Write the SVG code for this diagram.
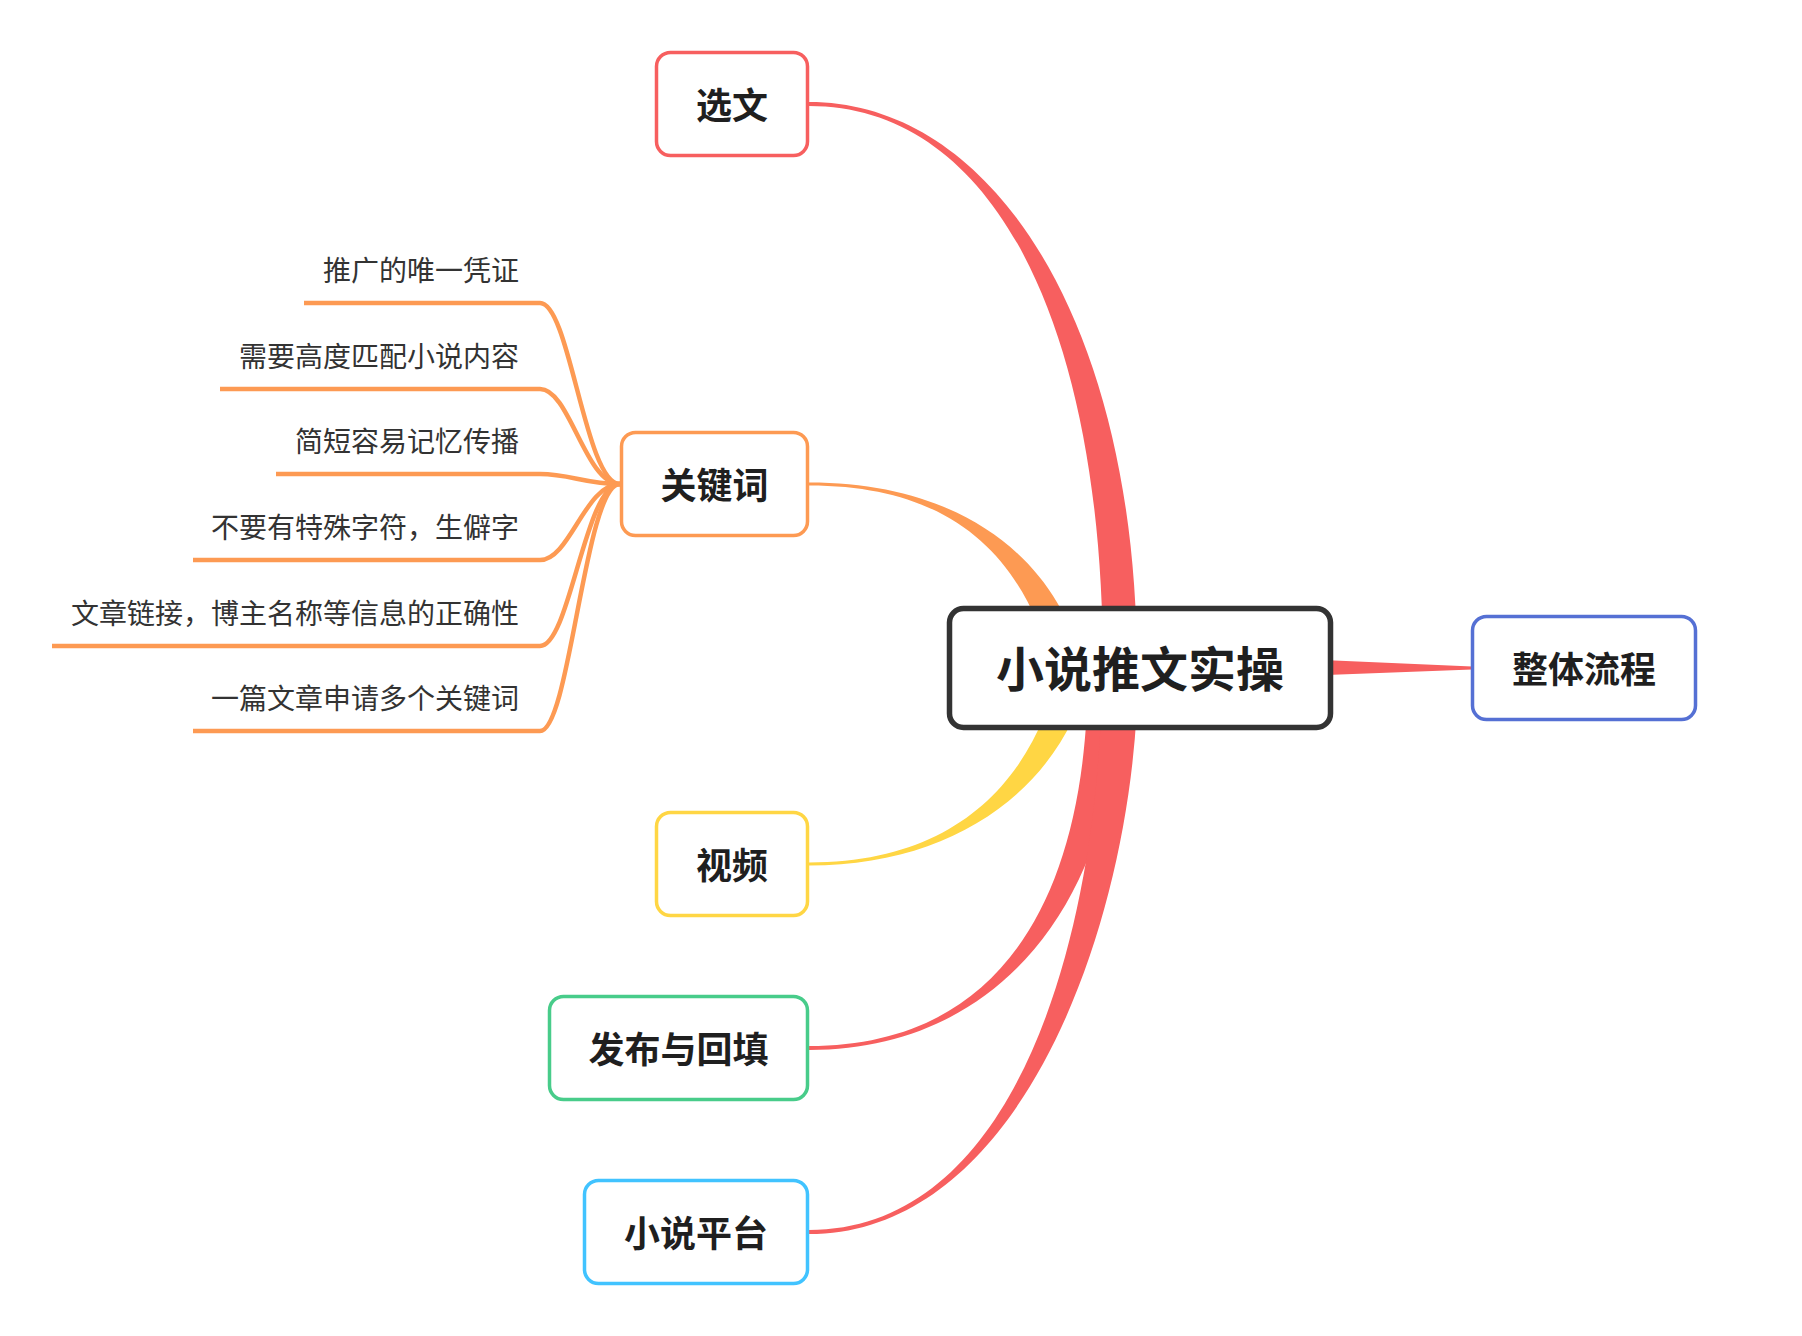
<svg xmlns="http://www.w3.org/2000/svg" width="1802" height="1336" viewBox="0 0 1802 1336">
<style>
.bg{fill:#ffffff}
.box{fill:#ffffff;stroke-width:3.5}
.main{font-family:"Noto Sans CJK SC","Noto Sans",sans-serif;font-weight:700;font-size:36px;fill:#1f1f1f;text-anchor:middle}
.root{font-family:"Noto Sans CJK SC","Noto Sans",sans-serif;font-weight:700;font-size:48px;fill:#1f1f1f;text-anchor:middle}
.sub{font-family:"Noto Sans CJK SC","Noto Sans",sans-serif;font-size:28px;fill:#333333;text-anchor:end}
.subline{fill:none;stroke:#FD9A53;stroke-width:4.5}
.red{fill:#F75F5F}
.orange{fill:#FD9A53}
.yellow{fill:#FFD644}
</style>
<rect class="bg" x="0" y="0" width="1802" height="1336"/>
<g id="connectors">
  <path class="red" d="M809,102 C996,102 1137,329 1137,667 L1103,667 C1103,329 996,106 809,106 Z"/>
  <path class="orange" d="M809,482.5 C960,482.5 1054.6,556.6 1082.6,663.6 L1053.4,670.4 C1025.4,563.4 960,485.5 809,485.5 Z"/>
  <path class="yellow" d="M809,865.5 C960,865.5 1064.6,783.2 1089.6,670.2 L1060.4,663.8 C1035.4,776.8 960,862.5 809,862.5 Z"/>
  <path class="red" d="M809,1050 C1000,1050 1122,900 1122,667 L1088,667 C1088,900 1000,1046 809,1046 Z"/>
  <path class="red" d="M809,1234 C1030,1234 1138,900 1138,667 L1102,667 C1102,900 1030,1230 809,1230 Z"/>
  <path class="red" d="M1300,659 L1472,666.5 L1472,669.5 L1300,676 Z"/>
  <path class="subline" d="M304,303 L540,303 C570,303 585,484 620,484"/>
  <path class="subline" d="M220,389 L540,389 C570,389 585,484 620,484"/>
  <path class="subline" d="M276,474 L540,474 C570,474 585,484 620,484"/>
  <path class="subline" d="M193,560 L540,560 C570,560 585,484 620,484"/>
  <path class="subline" d="M52,646 L540,646 C570,646 585,484 620,484"/>
  <path class="subline" d="M193,731 L540,731 C570,731 585,484 620,484"/>
</g>
<g id="root">
  <rect x="949.5" y="608.5" width="381" height="119" rx="14" fill="#ffffff" stroke="#333333" stroke-width="5.5"/>
  <text class="root" x="1140" y="687">小说推文实操</text>
</g>
<g id="node-xuanwen">
  <rect class="box" x="656.5" y="52.5" width="151" height="103" rx="14" stroke="#F75F5F"/>
  <text class="main" x="732" y="118.5">选文</text>
</g>
<g id="node-guanjianci">
  <rect class="box" x="621.5" y="432.5" width="186" height="103" rx="14" stroke="#FD9A53"/>
  <text class="main" x="714.5" y="498.5">关键词</text>
</g>
<g id="sub-1"><text class="sub" x="519" y="280.5">推广的唯一凭证</text></g>
<g id="sub-2"><text class="sub" x="519" y="366.5">需要高度匹配小说内容</text></g>
<g id="sub-3"><text class="sub" x="519" y="451.5">简短容易记忆传播</text></g>
<g id="sub-4"><text class="sub" x="519" y="538">不要有特殊字符，生僻字</text></g>
<g id="sub-5"><text class="sub" x="519" y="624">文章链接，博主名称等信息的正确性</text></g>
<g id="sub-6"><text class="sub" x="519" y="709">一篇文章申请多个关键词</text></g>
<g id="node-shipin">
  <rect class="box" x="656.5" y="812.5" width="151" height="103" rx="14" stroke="#FFD644"/>
  <text class="main" x="732" y="878.5">视频</text>
</g>
<g id="node-fabu">
  <rect class="box" x="549.5" y="996.5" width="258" height="103" rx="14" stroke="#48CC8A"/>
  <text class="main" x="678.5" y="1062.5">发布与回填</text>
</g>
<g id="node-pingtai">
  <rect class="box" x="584.5" y="1180.5" width="223" height="103" rx="14" stroke="#41C3FF"/>
  <text class="main" x="696" y="1246.5">小说平台</text>
</g>
<g id="node-liucheng">
  <rect class="box" x="1472.5" y="616.5" width="223" height="103" rx="14" stroke="#5570D4"/>
  <text class="main" x="1584" y="682.5">整体流程</text>
</g>
</svg>
